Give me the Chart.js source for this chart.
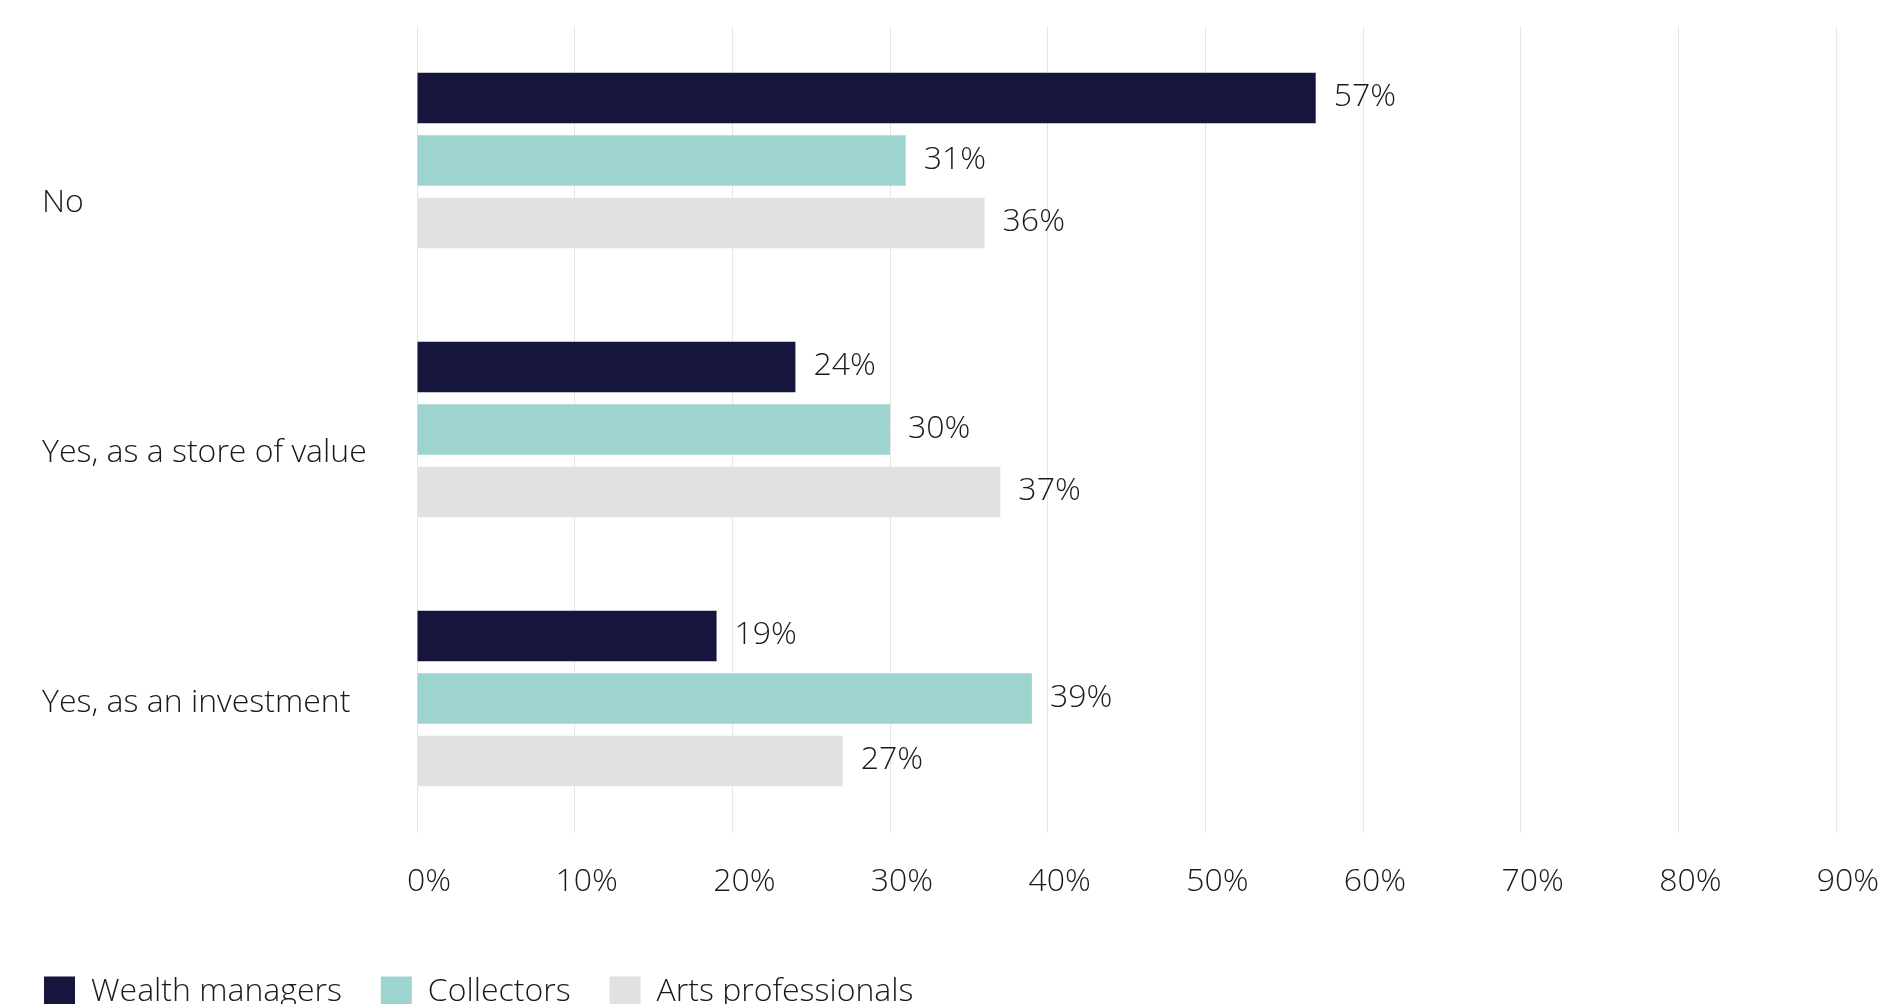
<!DOCTYPE html>
<html>
<head>
<meta charset="utf-8">
<script src="https://cdn.jsdelivr.net/npm/chart.js@4/dist/chart.umd.min.js"></script>
<style>
  html, body { margin: 0; padding: 0; background: #fff; overflow: hidden; }
  canvas { display: block; }
</style>
</head>
<body>
<canvas id="myChart" width="1880" height="1004"></canvas>
<script>
// data
var categories = ['No', 'Yes, as a store of value', 'Yes, as an investment'];
var seriesNames = ['Wealth managers', 'Collectors', 'Arts professionals'];
var wealthManagers = [57, 24, 19];
var collectors = [31, 30, 39];
var artsProfessionals = [36, 37, 27];
var seriesColors = ['#15153d', '#9ed4cf', '#e1e1e0'];

Chart.defaults.font.family = "'Open Sans', sans-serif";
Chart.defaults.font.weight = 300;
Chart.defaults.color = '#1a1a1a';

// value labels to the right of each bar
const barLabels = {
    id: 'barLabels',
    afterDatasetsDraw(chart) {
        const ctx = chart.ctx;
        ctx.save();
        ctx.font = "300 32px 'Open Sans', sans-serif";
        ctx.fillStyle = '#1a1a1a';
        ctx.textAlign = 'left';
        ctx.textBaseline = 'middle';
        chart.data.datasets.forEach(function (ds, i) {
            chart.getDatasetMeta(i).data.forEach(function (bar, j) {
                ctx.fillText(ds.data[j] + '%', bar.x + 18, bar.y - 1);
            });
        });
        ctx.restore();
    }
};

// pull legend to the left edge
const legendShift = {
    id: 'legendShift',
    afterLayout(chart) {
        chart.legend.left -= 37;
    }
};

const ctx = document.getElementById('myChart').getContext('2d');
const myChart = new Chart(ctx, {
    type: 'bar',
    data: {
        labels: categories,
        datasets: [{
            label: seriesNames[0],
            data: wealthManagers,
            backgroundColor: seriesColors[0]
        },
        {
            label: seriesNames[1],
            data: collectors,
            backgroundColor: seriesColors[1]
        },
        {
            label: seriesNames[2],
            data: artsProfessionals,
            backgroundColor: seriesColors[2]
        }]
    },
    options: {
        responsive: false,
        animation: false,
        devicePixelRatio: 1,
        indexAxis: 'y',
        categoryPercentage: 0.697,
        barPercentage: 0.808,
        layout: {
            padding: { left: 42, right: 44, top: 26, bottom: -14 }
        },
        scales: {
            x: {
                type: 'linear',
                min: 0,
                max: 90,
                ticks: {
                    stepSize: 10,
                    padding: 30,
                    labelOffset: 12,
                    font: { size: 32, weight: 300 },
                    callback: function (v) { return v + '%'; }
                },
                grid: { color: '#e6e6e6', drawTicks: false },
                border: { display: false },
                afterFit: function (s) {
                    s.height = 104;
                    s.paddingLeft = 0;
                    s.paddingRight = 0;
                }
            },
            y: {
                display: false
            },
            // label axis: category names sit a bit off the bar groups in the original
            yl: {
                type: 'linear',
                position: 'left',
                reverse: true,
                offset: false,
                afterBuildTicks: function (s) {
                    s.ticks = categories.map(function (c, i) { return { value: i }; });
                    s.min = -0.71;
                    s.max = 2.523;
                },
                ticks: {
                    crossAlign: 'far',
                    font: { size: 32, weight: 300 },
                    callback: function (v) { return categories[v]; }
                },
                grid: { display: false },
                border: { display: false },
                afterFit: function (s) {
                    s.width = 375;
                    s.paddingTop = 0;
                    s.paddingBottom = 0;
                }
            }
        },
        plugins: {
            legend: {
                position: 'bottom',
                align: 'start',
                labels: {
                    boxWidth: 31,
                    boxHeight: 31,
                    padding: 39,
                    font: { size: 32, weight: 300 }
                }
            },
            tooltip: { enabled: false }
        }
    },
    plugins: [barLabels, legendShift]
});
</script>
</body>
</html>
